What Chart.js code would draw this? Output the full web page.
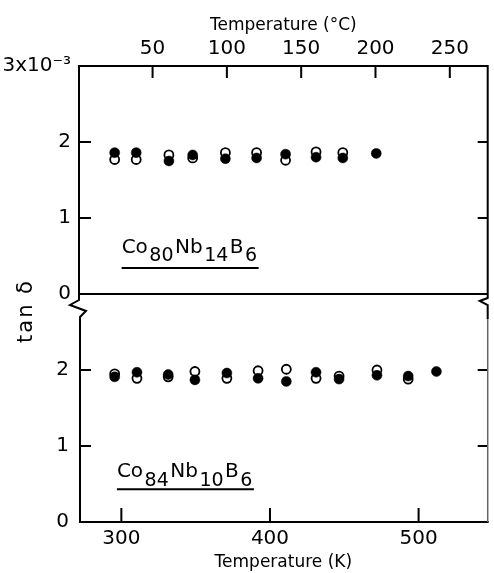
<!DOCTYPE html>
<html><head><meta charset="utf-8">
<script src="https://cdn.jsdelivr.net/npm/chart.js@4.4.1/dist/chart.umd.min.js"></script>
<style>html,body{margin:0;padding:0;background:#fff}#wrap{width:494px;height:573px;position:relative}</style>
</head><body><div id="wrap"><canvas id="c" width="494" height="573"></canvas></div>
<script>
// ---- data ----
const kelvinTicks = [300, 400, 500];
const celsiusTicks = [50, 100, 150, 200, 250];
const tanTicks = [0, 1, 2, 3];

const topTempK  = [295.5, 310, 332, 348, 370, 391, 410.5, 431, 449, 471.5];
const topFilled = [1.86, 1.86, 1.75, 1.83, 1.78, 1.79, 1.84, 1.80, 1.79, 1.85];
const topOpen   = [1.77, 1.77, 1.83, 1.79, 1.86, 1.86, 1.76, 1.87, 1.86, null];

const botTempK  = [295.5, 310.5, 331.5, 349.5, 371, 392, 411, 431, 446.5, 472, 493, 512];
const botFilled = [1.91, 1.97, 1.94, 1.87, 1.96, 1.89, 1.85, 1.97, 1.88, 1.93, 1.92, 1.98];
const botOpen   = [1.95, 1.89, 1.91, 1.98, 1.89, 1.99, 2.01, 1.89, 1.92, 2.00, 1.88, null];

const topAlloy = [['Co',0],['80',1],['Nb',0],['14',1],['B',0],['6',1]];
const botAlloy = [['Co',0],['84',1],['Nb',0],['10',1],['B',0],['6',1]];

const kMin = 271.5, kMax = 546.5, cOffset = 271;

function pts(xs, ys) {
  const out = [];
  xs.forEach((x, i) => { if (ys[i] !== null && ys[i] !== undefined) out.push({x: x, y: ys[i]}); });
  return out;
}

const FONT = 'DejaVu Sans';
Chart.defaults.font.family = FONT;
Chart.defaults.color = '#000';

const framePlugin = {
  id: 'frame',
  afterDatasetsDraw(chart) {
    const {ctx, chartArea: a, scales} = chart;
    const yT = scales.yTop, yB = scales.yBot, xs = scales.x, xC = scales.xC;
    const midY = yT.getPixelForValue(0);
    ctx.save();
    ctx.strokeStyle = '#000'; ctx.lineWidth = 2; ctx.lineJoin = 'miter'; ctx.lineCap = 'butt';
    ctx.beginPath();
    ctx.moveTo(a.left - 1, a.top); ctx.lineTo(a.right + 1, a.top);
    ctx.moveTo(a.left, midY); ctx.lineTo(a.right, midY);
    ctx.moveTo(a.left, a.bottom); ctx.lineTo(a.right + 1, a.bottom);
    // left axis with break
    ctx.moveTo(a.left, a.top); ctx.lineTo(a.left, midY + 6);
    ctx.lineTo(a.left - 9, midY + 11); ctx.lineTo(a.left + 7, midY + 17);
    ctx.lineTo(a.left + 1, midY + 23); ctx.lineTo(a.left + 1, a.bottom + 1);
    // right axis (upper part) with break
    ctx.moveTo(a.right, a.top); ctx.lineTo(a.right, midY + 4);
    ctx.lineTo(a.right - 8, midY + 7); ctx.lineTo(a.right, midY + 11);
    ctx.lineTo(a.right, midY + 25);
    // ticks
    [yT, yB].forEach(s => {
      [1, 2].forEach(v => {
        const p = s.getPixelForValue(v);
        ctx.moveTo(a.left, p); ctx.lineTo(a.left + 12, p);
        ctx.moveTo(a.right, p); ctx.lineTo(a.right - 10, p);
      });
    });
    celsiusTicks.forEach(v => { const p = xC.getPixelForValue(v); ctx.moveTo(p, a.top); ctx.lineTo(p, a.top + 12); });
    kelvinTicks.forEach(v => { const p = xs.getPixelForValue(v); ctx.moveTo(p, a.bottom); ctx.lineTo(p, a.bottom - 14); });
    ctx.stroke();
    // faint lower right axis
    ctx.strokeStyle = '#666'; ctx.lineWidth = 1.5;
    ctx.beginPath(); ctx.moveTo(a.right, midY + 25); ctx.lineTo(a.right, a.bottom); ctx.stroke();
    ctx.strokeStyle = '#000';

    // y title
    ctx.fillStyle = '#000';
    ctx.font = '21px ' + FONT;
    ctx.textAlign = 'center'; ctx.textBaseline = 'middle';
    ctx.save();
    ctx.translate(27, midY + 17);
    ctx.rotate(-Math.PI / 2);
    try { ctx.letterSpacing = '2px'; } catch (e) {}
    ctx.fillText('tan δ', 0, 0);
    try { ctx.letterSpacing = '0px'; } catch (e) {}
    ctx.restore();

    // alloy labels
    function alloy(parts, px, py, subDy, lineDy) {
      let x = px;
      ctx.textAlign = 'left'; ctx.textBaseline = 'alphabetic';
      parts.forEach(([t, sub]) => {
        ctx.font = (sub ? '19px ' : '20px ') + FONT;
        ctx.fillText(t, x, py + (sub ? subDy : 0));
        x += ctx.measureText(t).width + 1.5;
      });
      ctx.lineWidth = 2;
      ctx.beginPath(); ctx.moveTo(px, py + lineDy); ctx.lineTo(x, py + lineDy); ctx.stroke();
    }
    alloy(topAlloy, xs.getPixelForValue(300.2), yT.getPixelForValue(0.54), 8, 15);
    alloy(botAlloy, xs.getPixelForValue(297), yB.getPixelForValue(0.59), 9, 12);
    ctx.restore();
  }
};

const filledStyle = {pointStyle: 'circle', pointRadius: 5, pointBackgroundColor: '#000', pointBorderColor: '#000', pointBorderWidth: 0.5, showLine: false};
const openStyle = {pointStyle: 'circle', pointRadius: 4.5, pointBackgroundColor: '#fff', pointBorderColor: '#000', pointBorderWidth: 1.8, showLine: false};

new Chart(document.getElementById('c'), {
  type: 'scatter',
  data: {
    datasets: [
      Object.assign({label: 'top filled', data: pts(topTempK, topFilled), xAxisID: 'x', yAxisID: 'yTop', order: 0}, filledStyle),
      Object.assign({label: 'top open', data: pts(topTempK, topOpen), xAxisID: 'x', yAxisID: 'yTop', order: 1}, openStyle),
      Object.assign({label: 'bottom filled', data: pts(botTempK, botFilled), xAxisID: 'x', yAxisID: 'yBot', order: 0}, filledStyle),
      Object.assign({label: 'bottom open', data: pts(botTempK, botOpen), xAxisID: 'x', yAxisID: 'yBot', order: 1}, openStyle)
    ]
  },
  options: {
    responsive: false, animation: false, devicePixelRatio: 1,
    layout: {padding: {left: 0, right: 3, top: 0, bottom: 0}},
    plugins: {legend: {display: false}, tooltip: {enabled: false}},
    scales: {
      x: {
        type: 'linear', position: 'bottom', min: kMin, max: kMax,
        grid: {display: false, drawTicks: false, tickLength: 0}, border: {display: false},
        afterBuildTicks: s => { s.ticks = kelvinTicks.map(v => ({value: v})); },
        ticks: {padding: 5, font: {size: 20}, maxRotation: 0, callback: v => String(v)},
        title: {display: true, text: 'Temperature (K)', font: {size: 17}, padding: {top: 0, bottom: 0}},
        afterFit: s => { s.height = 51; }
      },
      xC: {
        type: 'linear', position: 'top', min: kMin - cOffset, max: kMax - cOffset,
        grid: {display: false, drawTicks: false, tickLength: 0}, border: {display: false},
        afterBuildTicks: s => { s.ticks = celsiusTicks.map(v => ({value: v})); },
        ticks: {padding: 5, font: {size: 20}, maxRotation: 0, callback: v => String(v)},
        title: {display: true, text: 'Temperature (°C)', font: {size: 17}, padding: {top: 15, bottom: 0}},
        afterFit: s => { s.height = 66; }
      },
      yBot: {
        type: 'linear', position: 'left', stack: 'panels', stackWeight: 1, min: 0, max: 3,
        grid: {display: false, drawTicks: false, tickLength: 0}, border: {display: false},
        afterBuildTicks: s => { s.ticks = tanTicks.map(v => ({value: v})); },
        ticks: {padding: 10, font: {size: 20}, callback: v => v === 3 ? '' : String(v)},
        afterFit: s => { s.width = 79; }
      },
      yTop: {
        type: 'linear', position: 'left', stack: 'panels', stackWeight: 1, min: 0, max: 3,
        grid: {display: false, drawTicks: false, tickLength: 0}, border: {display: false},
        afterBuildTicks: s => { s.ticks = tanTicks.map(v => ({value: v})); },
        ticks: {padding: 8, font: {size: 20},
                callback: v => v === 3 ? '3x10⁻³' : String(v)},
        afterFit: s => { s.width = 79; }
      }
    }
  },
  plugins: [framePlugin]
});
</script>
</body></html>
